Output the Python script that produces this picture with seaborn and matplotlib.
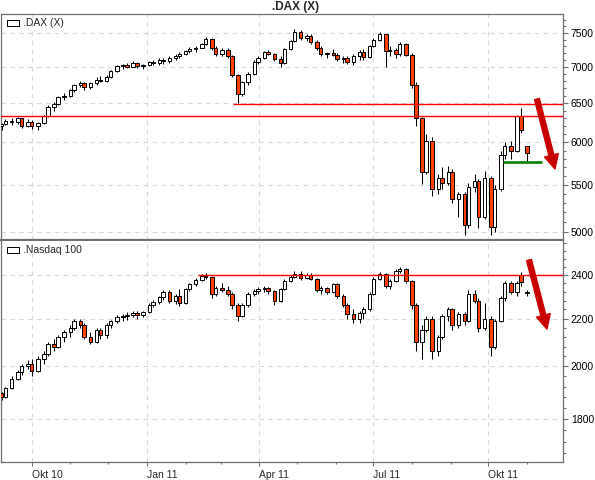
import numpy as np
import pandas as pd
import matplotlib
matplotlib.use('Agg')
import matplotlib.pyplot as plt
import matplotlib.dates as mdates
from matplotlib.ticker import FixedLocator, NullFormatter, FuncFormatter
from matplotlib.patches import Rectangle
import seaborn as sns

sns.set_theme(style='white')
plt.rcParams['font.family'] = ['Liberation Sans', 'DejaVu Sans']

# candles every 3 trading days, starting 7 Sep 2010
start_day = '2010-09-07'

dax_open = [6200, 6230, 6270, 6250, 6300, 6200, 6260, 6200, 6240, 6330,
            6450, 6490, 6580, 6600, 6670, 6740, 6770, 6720, 6770, 6820,
            6800, 6860, 6940, 7010, 7020, 7000, 7060, 7010, 7030, 7070,
            7050, 7100, 7080, 7130, 7150, 7190, 7230, 7260, 7280, 7330,
            7410, 7270, 7180, 7250, 7150, 6880, 6620, 6780, 6900, 7070,
            7130, 7210, 7190, 7110, 7050, 7260, 7380, 7520, 7430, 7450,
            7360, 7270, 7180, 7200, 7170, 7110, 7130, 7070, 7150, 7220,
            7140, 7300, 7400, 7480, 7230, 7250, 7180, 7330, 7170, 6750,
            6300, 5650, 6020, 5450, 5580, 5520, 5650, 5350, 5400, 5070,
            5480, 5550, 5150, 5580, 5050, 5450, 5850, 5960, 5900, 6330,
            5950]
dax_high = [6240, 6290, 6300, 6320, 6310, 6290, 6280, 6260, 6350, 6470,
            6520, 6600, 6630, 6690, 6760, 6800, 6790, 6790, 6850, 6870,
            6880, 6960, 7030, 7040, 7060, 7080, 7070, 7040, 7090, 7100,
            7120, 7130, 7150, 7180, 7210, 7250, 7290, 7300, 7350, 7440,
            7420, 7300, 7280, 7270, 7170, 6900, 6800, 6930, 7100, 7160,
            7230, 7250, 7200, 7150, 7280, 7400, 7560, 7550, 7480, 7480,
            7400, 7300, 7220, 7260, 7200, 7150, 7160, 7180, 7250, 7260,
            7320, 7430, 7520, 7490, 7300, 7280, 7360, 7350, 7200, 6780,
            6320, 6100, 6070, 5620, 5700, 5720, 5680, 5420, 5420, 5520,
            5620, 5570, 5660, 5600, 5500, 5900, 6000, 6020, 6350, 6430,
            5960]
dax_low = [6150, 6210, 6220, 6230, 6180, 6190, 6170, 6150, 6230, 6320,
           6400, 6470, 6540, 6580, 6650, 6720, 6680, 6690, 6740, 6780,
           6780, 6840, 6920, 6970, 6980, 6990, 6980, 6970, 7010, 7020,
           7030, 7040, 7060, 7100, 7130, 7170, 7200, 7220, 7270, 7320,
           7250, 7150, 7160, 7130, 6860, 6500, 6600, 6750, 6880, 7040,
           7110, 7170, 7080, 7000, 7040, 7250, 7360, 7400, 7380, 7330,
           7240, 7150, 7120, 7150, 7080, 7050, 7040, 7030, 7100, 7100,
           7120, 7290, 7380, 7000, 7150, 7120, 7160, 7150, 6700, 6200,
           5510, 5620, 5380, 5400, 5450, 5500, 5300, 5150, 4970, 5040,
           5420, 5040, 5130, 4970, 5000, 5430, 5800, 5800, 5880, 6120,
           5760]
dax_close = [6230, 6270, 6250, 6300, 6200, 6260, 6200, 6240, 6330, 6450,
             6490, 6580, 6600, 6670, 6740, 6770, 6720, 6770, 6820, 6800,
             6860, 6940, 7010, 7020, 7000, 7060, 7010, 7030, 7070, 7050,
             7100, 7080, 7130, 7150, 7190, 7230, 7260, 7280, 7330, 7410,
             7270, 7180, 7250, 7150, 6880, 6620, 6780, 6900, 7070, 7130,
             7210, 7190, 7110, 7050, 7260, 7380, 7520, 7430, 7450, 7360,
             7270, 7180, 7200, 7170, 7110, 7130, 7070, 7150, 7220, 7140,
             7300, 7400, 7480, 7230, 7250, 7180, 7330, 7170, 6750, 6300,
             5650, 6020, 5450, 5580, 5520, 5650, 5350, 5400, 5070, 5480,
             5550, 5150, 5580, 5050, 5450, 5850, 5960, 5900, 6330, 6150,
             5870]

ndx_open = [1895, 1880, 1915, 1950, 1975, 2000, 2010, 1980, 2030, 2050,
            2090, 2080, 2120, 2140, 2160, 2190, 2170, 2120, 2100, 2150,
            2130, 2170, 2190, 2205, 2210, 2215, 2225, 2215, 2230, 2260,
            2275, 2295, 2320, 2280, 2300, 2270, 2335, 2355, 2375, 2395,
            2390, 2310, 2340, 2330, 2310, 2260, 2210, 2260, 2310, 2325,
            2335, 2340, 2325, 2280, 2335, 2370, 2390, 2405, 2385, 2400,
            2380, 2330, 2340, 2320, 2355, 2300, 2260, 2220, 2200, 2225,
            2240, 2310, 2380, 2405, 2350, 2370, 2420, 2430, 2370, 2260,
            2100, 2150, 2200, 2060, 2120, 2210, 2240, 2170, 2220, 2190,
            2310, 2280, 2160, 2200, 2080, 2190, 2290, 2360, 2320, 2400,
            2320]
ndx_high = [1900, 1920, 1960, 1985, 2010, 2025, 2030, 2040, 2060, 2100,
            2110, 2130, 2150, 2170, 2200, 2200, 2180, 2140, 2160, 2160,
            2180, 2195, 2215, 2220, 2230, 2235, 2235, 2235, 2270, 2285,
            2300, 2330, 2330, 2310, 2335, 2340, 2360, 2385, 2405, 2410,
            2395, 2350, 2360, 2350, 2320, 2270, 2270, 2320, 2335, 2345,
            2350, 2345, 2330, 2340, 2380, 2400, 2420, 2420, 2410, 2410,
            2385, 2350, 2345, 2360, 2360, 2310, 2270, 2240, 2235, 2250,
            2320, 2390, 2415, 2410, 2380, 2430, 2440, 2435, 2375, 2270,
            2170, 2210, 2210, 2130, 2220, 2250, 2245, 2230, 2230, 2330,
            2330, 2290, 2270, 2210, 2200, 2300, 2370, 2370, 2370, 2415,
            2330]
ndx_low = [1870, 1875, 1910, 1945, 1965, 1990, 1960, 1975, 2010, 2040,
           2060, 2075, 2100, 2120, 2150, 2160, 2110, 2090, 2095, 2110,
           2115, 2160, 2180, 2190, 2195, 2205, 2200, 2205, 2225, 2250,
           2265, 2285, 2270, 2265, 2255, 2265, 2325, 2350, 2370, 2380,
           2290, 2300, 2320, 2300, 2240, 2190, 2205, 2250, 2300, 2310,
           2320, 2310, 2260, 2275, 2330, 2365, 2385, 2375, 2380, 2375,
           2320, 2310, 2310, 2315, 2290, 2250, 2200, 2180, 2180, 2200,
           2235, 2305, 2375, 2340, 2335, 2365, 2410, 2360, 2240, 2060,
           2030, 2140, 2030, 2040, 2110, 2190, 2150, 2160, 2170, 2185,
           2270, 2140, 2150, 2040, 2070, 2185, 2280, 2310, 2300, 2350,
           2300]
ndx_close = [1880, 1915, 1950, 1975, 2000, 2010, 1980, 2030, 2050, 2090,
             2080, 2120, 2140, 2160, 2190, 2170, 2120, 2100, 2150, 2130,
             2170, 2190, 2205, 2210, 2215, 2225, 2215, 2230, 2260, 2275,
             2295, 2320, 2280, 2300, 2270, 2335, 2355, 2375, 2395, 2390,
             2310, 2340, 2330, 2310, 2260, 2210, 2260, 2310, 2325, 2335,
             2340, 2325, 2280, 2335, 2370, 2390, 2405, 2385, 2400, 2380,
             2330, 2340, 2320, 2355, 2300, 2260, 2220, 2200, 2225, 2240,
             2310, 2380, 2405, 2350, 2370, 2420, 2430, 2370, 2260, 2100,
             2150, 2200, 2060, 2120, 2210, 2240, 2170, 2220, 2190, 2310,
             2280, 2160, 2200, 2080, 2190, 2290, 2360, 2320, 2360, 2365,
             2315]

# horizontal levels drawn in the chart
dax_support = 6325
dax_resist = 6490
dax_resist_from = '2011-03-11'
dax_green = 5760
dax_green_span = ('2011-10-13', '2011-11-13')
ndx_resist = 2400
ndx_resist_from = '2011-02-11'

# down arrows: (start date, start price, end date, end price)
dax_arrow = ('2011-11-08 18:00', 6554, '2011-11-23 04:00', 5682)
ndx_arrow = ('2011-11-02 10:00', 2473, '2011-11-16 18:00', 2154)

dates = pd.bdate_range(start_day, periods=len(dax_close), freq='3B')
xnum = mdates.date2num(dates)

W, H = 595, 480
fig = plt.figure(figsize=(W / 100, H / 100), dpi=100)
fig.patch.set_facecolor('white')

ax1 = fig.add_axes([1 / W, 1 - 240 / H, 562 / W, 226 / H])
ax2 = fig.add_axes([1 / W, 1 - 462 / H, 562 / W, 221 / H])

xmin = mdates.date2num(pd.Timestamp('2010-09-06 12:00'))
xmax = mdates.date2num(pd.Timestamp('2011-11-29 14:00'))
spine_col = '#707070'
grid_col = '#d9d9d9'
down_col = '#ff4000'


def candles(ax, o, h, l, c):
    o, h, l, c = map(np.asarray, (o, h, l, c))
    ax.vlines(xnum, l, h, color='black', lw=0.75, zorder=3)
    up = c >= o
    ax.bar(xnum, np.abs(c - o), bottom=np.minimum(o, c), width=2.8,
           color=np.where(up, 'white', down_col), edgecolor='black',
           linewidth=0.7, zorder=4)


def month_label(v, pos):
    d = mdates.num2date(v)
    names = {1: 'Jan', 4: 'Apr', 7: 'Jul', 10: 'Okt'}
    return '%s %02d' % (names.get(d.month, ''), d.year % 100)


for ax in (ax1, ax2):
    ax.set_facecolor('white')
    ax.set_yscale('log')
    ax.set_xlim(xmin, xmax)
    ax.yaxis.tick_right()
    ax.xaxis.set_major_locator(mdates.MonthLocator(bymonth=[1, 4, 7, 10]))
    ax.xaxis.set_minor_locator(mdates.MonthLocator())
    ax.grid(True, which='major', color=grid_col, linestyle=(0, (4, 4)), lw=0.8)
    ax.set_axisbelow(True)
    ax.tick_params(axis='y', which='major', direction='out', length=3.6,
                   width=0.8, color=spine_col, labelsize=7.5, pad=2,
                   labelcolor='black', right=True, left=False)
    ax.tick_params(axis='y', which='minor', direction='out', length=2,
                   width=0.8, color=spine_col, right=True, left=False)
    ax.yaxis.set_minor_formatter(NullFormatter())
    for s in ax.spines.values():
        s.set_color(spine_col)
        s.set_linewidth(0.9)

candles(ax1, dax_open, dax_high, dax_low, dax_close)
candles(ax2, ndx_open, ndx_high, ndx_low, ndx_close)

# DAX panel
ax1.set_ylim(4916, 7796)
ax1.yaxis.set_major_locator(FixedLocator([5000, 5500, 6000, 6500, 7000, 7500]))
ax1.yaxis.set_major_formatter(FuncFormatter(lambda v, p: '%d' % v))
ax1.yaxis.set_minor_locator(FixedLocator([v for v in range(5000, 7800, 100) if v % 500]))
ax1.tick_params(axis='x', which='both', bottom=False, labelbottom=False)
ax1.spines['bottom'].set_linewidth(1.6)

ax1.axhline(dax_support, color='red', lw=1.0, zorder=5)
ax1.hlines(dax_resist, mdates.date2num(pd.Timestamp(dax_resist_from)), xmax,
           color='red', lw=1.0, zorder=5)
ax1.hlines(dax_green, *mdates.date2num([pd.Timestamp(d) for d in dax_green_span]),
           color='#008000', lw=1.9, zorder=5)

# Nasdaq panel
ax2.set_ylim(1651, 2569)
ax2.yaxis.set_major_locator(FixedLocator([1800, 2000, 2200, 2400]))
ax2.yaxis.set_major_formatter(FuncFormatter(lambda v, p: '%d' % v))
ax2.yaxis.set_minor_locator(FixedLocator([v for v in range(1680, 2570, 40) if v % 200]))
ax2.spines['top'].set_visible(False)
ax2.xaxis.set_major_formatter(FuncFormatter(month_label))
ax2.tick_params(axis='x', which='major', direction='out', length=2.9, width=0.8,
                color=spine_col, labelsize=7.5, pad=2.5, bottom=True)
ax2.tick_params(axis='x', which='minor', direction='out', length=1.5, width=0.8,
                color=spine_col, bottom=True)
plt.setp(ax2.get_xticklabels(), ha='left')

ax2.hlines(ndx_resist, mdates.date2num(pd.Timestamp(ndx_resist_from)), xmax,
           color='red', lw=1.0, zorder=5)

for ax, (d0, p0, d1, p1) in ((ax1, dax_arrow), (ax2, ndx_arrow)):
    ax.annotate('', xy=(mdates.date2num(pd.Timestamp(d1)), p1),
                xytext=(mdates.date2num(pd.Timestamp(d0)), p0),
                arrowprops=dict(arrowstyle='simple,head_width=0.85,head_length=0.85,tail_width=0.3',
                                mutation_scale=12, color='#c80000',
                                shrinkA=0, shrinkB=0),
                zorder=6)

# title and legend labels
fig.text(296 / W, 1 - 7 / H, '.DAX (X)', ha='center', va='center',
         fontsize=8.5, fontweight='bold')
for ytop, label in ((20, '.DAX (X)'), (247, '.Nasdaq 100')):
    fig.add_artist(Rectangle((7 / W, 1 - (ytop + 6) / H), 12 / W, 6 / H,
                             transform=fig.transFigure, facecolor='white',
                             edgecolor='black', lw=0.7))
    fig.text(23 / W, 1 - (ytop + 3) / H, label, ha='left', va='center', fontsize=7.5)

fig.savefig('out.png', dpi=100)
